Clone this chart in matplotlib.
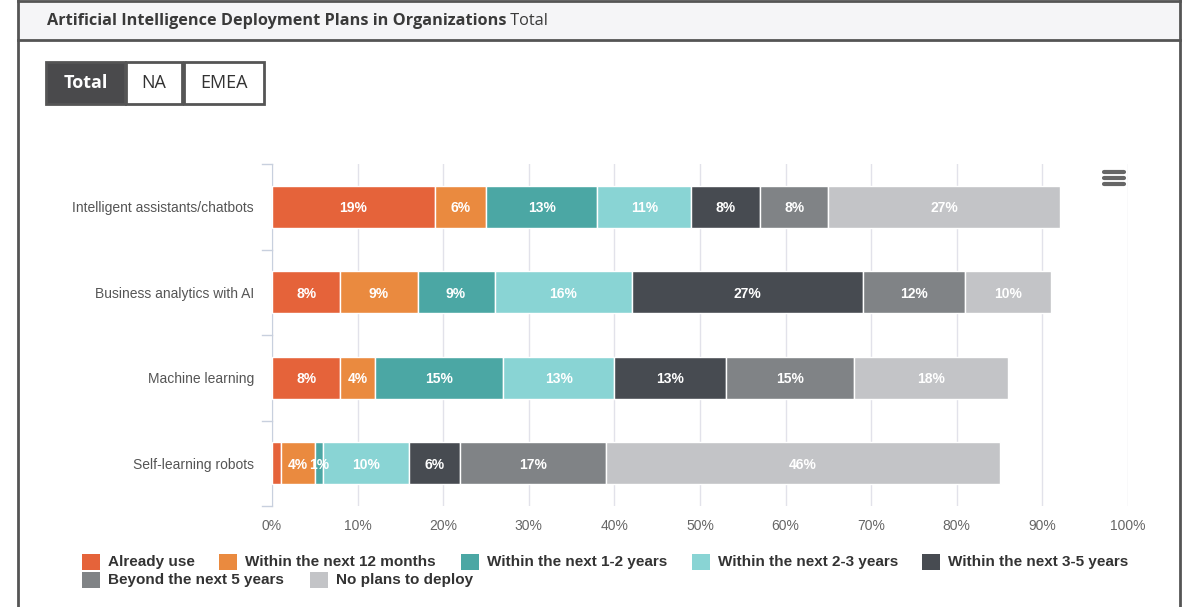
import matplotlib.pyplot as plt
from matplotlib.patches import Rectangle
from matplotlib.lines import Line2D

W, H = 1200, 607

categories = ["Intelligent assistants/chatbots", "Business analytics with AI",
              "Machine learning", "Self-learning robots"]
series_names = ["Already use", "Within the next 12 months", "Within the next 1-2 years",
                "Within the next 2-3 years", "Within the next 3-5 years",
                "Beyond the next 5 years", "No plans to deploy"]
already_use = [19, 8, 8, 1]
next_12_months = [6, 9, 4, 4]
next_1_2_years = [13, 9, 15, 1]
next_2_3_years = [11, 16, 13, 10]
next_3_5_years = [8, 27, 13, 6]
beyond_5_years = [8, 12, 15, 17]
no_plans = [27, 10, 18, 46]
series = [already_use, next_12_months, next_1_2_years, next_2_3_years,
          next_3_5_years, beyond_5_years, no_plans]
colors = ["#E5633A", "#EA8A3F", "#4BA7A4", "#89D4D4", "#474B51", "#808386", "#C3C4C7"]
xticks = list(range(0, 101, 10))


def px(x, y):
    # pixel -> figure fraction
    return x / W, 1 - y / H


fig = plt.figure(figsize=(W / 100, H / 100), dpi=100)
fig.patch.set_facecolor("white")

# page frame + header band
fig.patches.append(Rectangle(px(18, 40), (1180 - 18) / W, 40 / H, transform=fig.transFigure,
                             facecolor="#F5F5F7", edgecolor="none", zorder=0))
for xs, ys in [((18, 18), (0, H)), ((1180, 1180), (0, H)), ((18, 1180), (1, 1)),
               ((18, 1180), (40, 40))]:
    fig.add_artist(Line2D([x / W for x in xs], [1 - y / H for y in ys],
                          transform=fig.transFigure, color="#555555", lw=2))

t = fig.text(*px(47, 21), "Artificial Intelligence Deployment Plans in Organizations",
             fontsize=11.7, fontweight="bold", family="Open Sans", color="#3a3a3a", va="center")
fig.canvas.draw()
bb = t.get_window_extent()
fig.text(bb.x1 / W, 1 - 21 / H, " Total", fontsize=11.7, family="Open Sans",
         color="#3a3a3a", va="center")

# buttons
buttons = [("Total", 46, 125, True), ("NA", 126, 182, False), ("EMEA", 184, 264, False)]
for label, x0, x1, active in buttons:
    fig.patches.append(Rectangle(px(x0, 104), (x1 - x0) / W, 42 / H, transform=fig.transFigure,
                                 facecolor="#4a4a4c" if active else "white",
                                 edgecolor="#555555", lw=2))
    fig.text(*px((x0 + x1) / 2, 83), label, ha="center", va="center", family="Open Sans",
             fontsize=13, fontweight="bold" if active else "normal",
             color="white" if active else "#333333")

# chart
x0p, x1p, y0p, y1p = 272, 1128, 164, 506
ax = fig.add_axes([x0p / W, 1 - y1p / H, (x1p - x0p) / W, (y1p - y0p) / H])
n = len(categories)
ypos = list(range(n))
left = [0] * n
for name, vals, c in zip(series_names, series, colors):
    ax.barh(ypos, vals, left=left, height=0.49, color=c, edgecolor="white", lw=1, zorder=3)
    for i, v in enumerate(vals):
        if not (name == "Already use" and v < 2):
            ax.text(left[i] + v / 2, i, f"{v}%", ha="center", va="center_baseline",
                    color="white", fontsize=10, fontweight="bold", family="Liberation Sans",
                    zorder=4)
    left = [l + v for l, v in zip(left, vals)]

ax.set_xlim(0, 100)
ax.set_ylim(n - 0.5, -0.5)
ax.set_xticks(xticks)
ax.set_xticklabels([f"{x}%" for x in xticks], fontsize=10, color="#666666",
                   family="Liberation Sans")
ax.set_yticks(ypos)
ax.set_yticklabels(categories, fontsize=10, color="#555555", family="Liberation Sans")
ax.tick_params(axis="x", length=0, pad=9)
ax.tick_params(axis="y", length=0, pad=13)
ax.grid(axis="x", color="#E2E2EA", lw=1, zorder=0)
for s in ["top", "right", "bottom"]:
    ax.spines[s].set_visible(False)
ax.spines["left"].set_color("#C8D0DE")
for b in [k - 0.5 for k in range(n + 1)]:
    ax.plot([-1.2, 0], [b, b], color="#C8D0DE", lw=1, clip_on=False, zorder=5)

# legend
legend_pos = [(82, 562), (219, 562), (461, 562), (692, 562), (922, 562), (82, 580), (310, 580)]
for (lx, ly), name, c in zip(legend_pos, series_names, colors):
    fig.patches.append(Rectangle(px(lx, ly + 8), 18 / W, 16 / H, transform=fig.transFigure,
                                 facecolor=c, edgecolor="none"))
    fig.text(*px(lx + 26, ly), name, va="center", fontsize=11, fontweight="bold",
             family="Liberation Sans", color="#333333")

# menu icon
for yy in (172, 178, 184):
    fig.add_artist(Line2D([1104 / W, 1124 / W], [1 - yy / H] * 2, transform=fig.transFigure,
                          color="#666666", lw=3, solid_capstyle="round"))

fig.savefig("out.png", dpi=100)
